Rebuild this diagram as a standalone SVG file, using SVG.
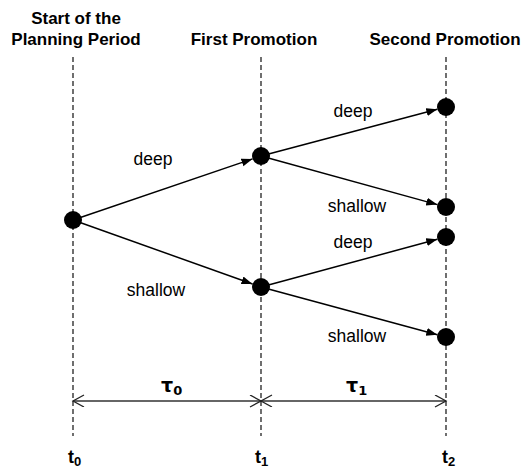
<svg xmlns="http://www.w3.org/2000/svg" width="530" height="475" viewBox="0 0 530 475">
<style>
.hdr{font-family:"Liberation Sans",Arial,sans-serif;font-weight:bold;font-size:17px;fill:#000;text-anchor:middle}
.lbl{font-family:"Liberation Sans",Arial,sans-serif;font-size:17.5px;fill:#000;text-anchor:middle}
.tm{font-family:"Liberation Sans",Arial,sans-serif;font-weight:bold;font-size:18px;fill:#000}
.tau{font-family:"DejaVu Sans",sans-serif;font-weight:bold;font-size:19px;fill:#000}
.sub{font-size:13px}
.guide{stroke:#222;stroke-width:1.3;stroke-dasharray:5,3;fill:none}
.edge{stroke:#000;stroke-width:1.5;fill:none;marker-end:url(#ah)}
.dim{stroke:#333;stroke-width:1.4;fill:none;marker-start:url(#oh);marker-end:url(#oh)}
.node{fill:#000}
</style>
<defs>
<marker id="ah" markerUnits="userSpaceOnUse" markerWidth="12" markerHeight="9" refX="11" refY="4" orient="auto">
<path d="M0,0 L11,4 L0,8 z" fill="#000"/>
</marker>
<marker id="oh" markerUnits="userSpaceOnUse" markerWidth="14" markerHeight="14" refX="12" refY="6" orient="auto-start-reverse">
<path d="M1,0 L12,6 L1,12" fill="none" stroke="#222" stroke-width="1.3"/>
</marker>
</defs>

<g id="headers">
<text class="hdr" x="76" y="24">Start of the</text>
<text class="hdr" x="76" y="45">Planning Period</text>
<text class="hdr" x="254" y="45">First Promotion</text>
<text class="hdr" x="445" y="45">Second Promotion</text>
</g>

<g id="guides">
<line class="guide" x1="73" y1="57" x2="73" y2="436"/>
<line class="guide" x1="261" y1="57" x2="261" y2="436"/>
<line class="guide" x1="446" y1="57" x2="446" y2="436"/>
</g>

<g id="connectors">
<line class="edge" x1="73" y1="220" x2="252.5" y2="158.9"/>
<line class="edge" x1="73" y1="220" x2="252.5" y2="284"/>
<line class="edge" x1="261" y1="156" x2="437.3" y2="109.3"/>
<line class="edge" x1="261" y1="156" x2="437.3" y2="204.6"/>
<line class="edge" x1="261" y1="287" x2="437.3" y2="239.3"/>
<line class="edge" x1="261" y1="287" x2="437.3" y2="334.7"/>
<line class="dim" x1="73" y1="401" x2="261" y2="401"/>
<line class="dim" x1="261" y1="401" x2="446" y2="401"/>
</g>

<g id="edge-labels">
<text class="lbl" x="153" y="165">deep</text>
<text class="lbl" x="156" y="296">shallow</text>
<text class="lbl" x="353" y="117">deep</text>
<text class="lbl" x="357" y="212">shallow</text>
<text class="lbl" x="353" y="248">deep</text>
<text class="lbl" x="357" y="342">shallow</text>
</g>

<g id="n-root"><circle class="node" cx="73" cy="220" r="9"/></g>
<g id="n-deep"><circle class="node" cx="261" cy="156" r="9"/></g>
<g id="n-shallow"><circle class="node" cx="261" cy="287" r="9"/></g>
<g id="n-deep-deep"><circle class="node" cx="446" cy="107" r="9"/></g>
<g id="n-deep-shallow"><circle class="node" cx="446" cy="207" r="9"/></g>
<g id="n-shallow-deep"><circle class="node" cx="446" cy="237" r="9"/></g>
<g id="n-shallow-shallow"><circle class="node" cx="446" cy="337" r="9"/></g>

<g id="time-labels">
<text class="tau" x="161" y="392">τ<tspan class="sub" dy="3">0</tspan></text>
<text class="tau" x="346" y="392">τ<tspan class="sub" dy="3">1</tspan></text>
<text class="tm" x="68" y="463">t<tspan class="sub" dy="3">0</tspan></text>
<text class="tm" x="255" y="463">t<tspan class="sub" dy="3">1</tspan></text>
<text class="tm" x="442" y="463">t<tspan class="sub" dy="3">2</tspan></text>
</g>
</svg>
